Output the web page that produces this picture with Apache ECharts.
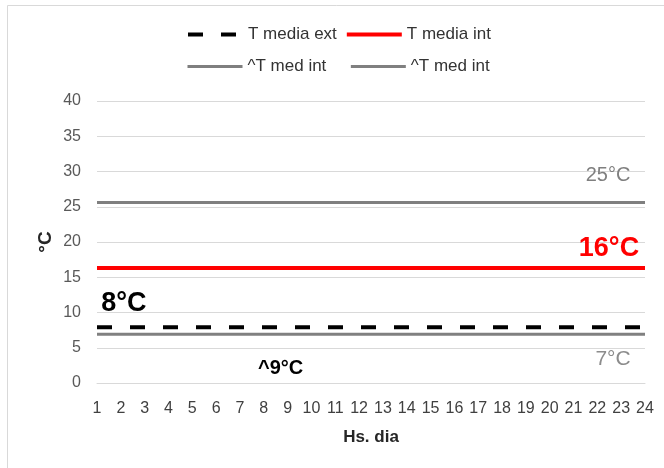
<!DOCTYPE html>
<html><head><meta charset="utf-8">
<script src="https://cdn.jsdelivr.net/npm/echarts@6/dist/echarts.min.js"></script>
<style>html,body{margin:0;padding:0;background:#fff}#c{width:664px;height:468px}</style>
</head><body><div id="c"></div>
<script>
const hours = ['1','2','3','4','5','6','7','8','9','10','11','12','13','14','15','16','17','18','19','20','21','22','23','24'];
const tMediaExt = [7.9,7.9,7.9,7.9,7.9,7.9,7.9,7.9,7.9,7.9,7.9,7.9,7.9,7.9,7.9,7.9,7.9,7.9,7.9,7.9,7.9,7.9,7.9,7.9];
const tMediaInt = [16.3,16.3,16.3,16.3,16.3,16.3,16.3,16.3,16.3,16.3,16.3,16.3,16.3,16.3,16.3,16.3,16.3,16.3,16.3,16.3,16.3,16.3,16.3,16.3];
const tMedIntHigh = [25.6,25.6,25.6,25.6,25.6,25.6,25.6,25.6,25.6,25.6,25.6,25.6,25.6,25.6,25.6,25.6,25.6,25.6,25.6,25.6,25.6,25.6,25.6,25.6];
const tMedIntLow = [6.9,6.9,6.9,6.9,6.9,6.9,6.9,6.9,6.9,6.9,6.9,6.9,6.9,6.9,6.9,6.9,6.9,6.9,6.9,6.9,6.9,6.9,6.9,6.9];
const seriesNames = ['T media ext','T media int','^T med int','^T med int '];
const yTicks = {min:0, max:40, interval:5};

function withLabel(arr, idx, label){
  return arr.map((v,i)=> i===idx ? {value:v, label:Object.assign({show:true}, label)} : v);
}

const FONT = 'Liberation Sans, Arial, sans-serif';
const legendCommon = {itemWidth:55, itemHeight:14, itemStyle:{opacity:0},
  textStyle:{fontFamily:FONT, fontSize:17, color:'#333333'}};
const chart = echarts.init(document.getElementById('c'), null, {renderer:'canvas'});
chart.setOption({
  animation:false,
  backgroundColor:'#fff',
  textStyle:{fontFamily:FONT},
  graphic:[{type:'rect', shape:{x:7.5,y:5.5,width:720,height:520}, style:{fill:'none', stroke:'#d9d9d9', lineWidth:1}}],
  legend:[
    Object.assign({data:[seriesNames[0], seriesNames[1]], left:181, top:21, itemGap:8, lineStyle:{width:4}}, legendCommon),
    Object.assign({data:[seriesNames[2], seriesNames[3]], left:181, top:53, itemGap:23, lineStyle:{width:3},
     formatter: n => n.trim()}, legendCommon)
  ],
  grid:{left:97, right:19, top:101, bottom:85},
  xAxis:{type:'category', data:hours, boundaryGap:false,
    name:'Hs. dia', nameLocation:'middle', nameGap:46, nameMoveOverlap:false,
    nameTextStyle:{fontFamily:FONT, fontSize:17, fontWeight:'bold', color:'#262626'},
    axisLine:{lineStyle:{color:'#d9d9d9'}}, axisTick:{show:false},
    axisLabel:{interval:0, margin:18, fontFamily:FONT, fontSize:16, color:'#404040'}},
  yAxis:{type:'value', min:yTicks.min, max:yTicks.max, interval:yTicks.interval,
    name:'°C', nameLocation:'middle', nameGap:42, nameRotate:90, nameMoveOverlap:false,
    nameTextStyle:{fontFamily:FONT, fontSize:19, fontWeight:'bold', color:'#262626'},
    axisLine:{show:false}, axisTick:{show:false},
    axisLabel:{margin:16, fontFamily:FONT, fontSize:16, color:'#595959'},
    splitLine:{lineStyle:{color:'#d9d9d9', width:1}}},
  series:[
    {name:seriesNames[0], type:'line', data:withLabel(tMediaExt, 1, {position:'top', offset:[3,-5], formatter:'8°C', fontSize:27, fontWeight:'bold', color:'#000'}),
     showSymbol:true, symbol:'circle', symbolSize:0.01, z:4,
     lineStyle:{color:'#000', width:4, type:[15,18]}, itemStyle:{color:'#000'}},
    {name:seriesNames[1], type:'line', data:withLabel(tMediaInt, 23, {position:'top', offset:[-36,-1], formatter:'16°C', fontSize:27, fontWeight:'bold', color:'#ff0000'}),
     showSymbol:true, symbol:'circle', symbolSize:0.01, z:3,
     lineStyle:{color:'#ff0000', width:4}, itemStyle:{color:'#ff0000'}},
    {name:seriesNames[2], type:'line', data:withLabel(tMedIntHigh, 23, {position:'top', offset:[-37,-12], formatter:'25°C', fontSize:20, color:'#7f7f7f'}),
     showSymbol:true, symbol:'circle', symbolSize:0.01, z:2,
     lineStyle:{color:'#7f7f7f', width:3}, itemStyle:{color:'#7f7f7f'}},
    {name:seriesNames[3], type:'line', data:withLabel(withLabel(tMedIntLow, 23, {position:'bottom', offset:[-32,9], formatter:'7°C', fontSize:21, color:'#8c8c8c'}), 8, {position:'bottom', offset:[-7,19], formatter:'^9°C', fontSize:20, fontWeight:'bold', color:'#000'}),
     showSymbol:true, symbol:'circle', symbolSize:0.01, z:2,
     lineStyle:{color:'#808080', width:3}, itemStyle:{color:'#808080'}}
  ]
});
</script></body></html>
